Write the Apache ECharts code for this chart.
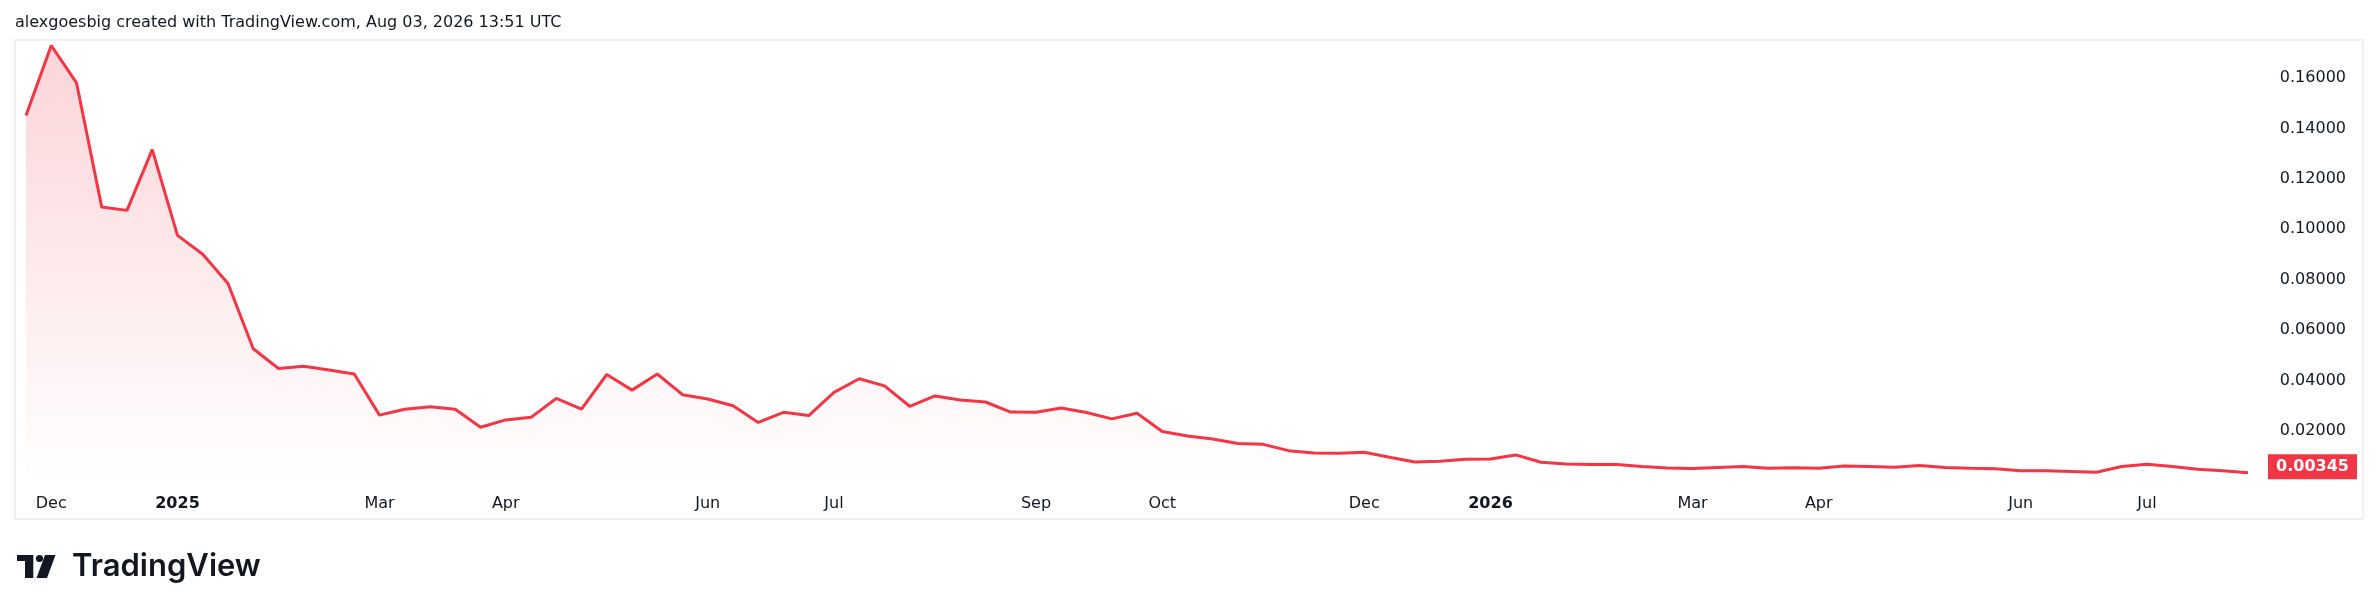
<!DOCTYPE html>
<html>
<head>
<meta charset="utf-8">
<script src="https://cdn.jsdelivr.net/npm/echarts@6/dist/echarts.min.js"></script>
<style>
  html, body { margin: 0; padding: 0; background: #ffffff; }
  #chart { width: 2379px; height: 611px; }
</style>
</head>
<body>
<div id="chart"></div>
<script>
// ---- data (weekly closes) ----
const startWeek = '2024-11-25';
const values = [
  0.1451, 0.1729, 0.1581, 0.1088, 0.1075, 0.1316, 0.0976, 0.0901, 0.0785, 0.0526,
  0.0448, 0.0457, 0.0442, 0.0426, 0.0263, 0.0286, 0.0296, 0.0286, 0.0215, 0.0244,
  0.0254, 0.0329, 0.0287, 0.0424, 0.0362, 0.0426, 0.0344, 0.0327, 0.0300, 0.0234,
  0.0274, 0.0261, 0.0353, 0.0407, 0.0379, 0.0298, 0.0339, 0.0323, 0.0315, 0.0275,
  0.0274, 0.0291, 0.0273, 0.0248, 0.0270, 0.0198, 0.0180, 0.0168, 0.0150, 0.0147,
  0.0122, 0.0113, 0.0112, 0.0116, 0.0096, 0.0077, 0.0080, 0.0088, 0.0089, 0.0105,
  0.0076, 0.0069, 0.0067, 0.0067, 0.0059, 0.0053, 0.0051, 0.0055, 0.0059, 0.0052,
  0.0054, 0.0052, 0.0061, 0.0059, 0.0056, 0.0063, 0.0055, 0.0052, 0.0050, 0.0042,
  0.0042, 0.0039, 0.0036, 0.0059, 0.0068, 0.0059, 0.0048, 0.0042, 0.00345
];
// x tick labels: category index -> text
const tickLabels = {
  1: 'Dec', 6: '2025', 14: 'Mar', 19: 'Apr', 27: 'Jun', 32: 'Jul', 40: 'Sep',
  45: 'Oct', 53: 'Dec', 58: '2026', 66: 'Mar', 71: 'Apr', 79: 'Jun', 84: 'Jul'
};
const yearLabels = ['2025', '2026'];
const lastPriceLabel = '0.00345';
const titleText = 'alexgoesbig created with TradingView.com, Aug 03, 2026 13:51 UTC';
const brandText = 'TradingView';

// weekly category dates
const categories = [];
{
  const d0 = new Date(startWeek + 'T00:00:00Z');
  for (let i = 0; i < values.length; i++) {
    const d = new Date(d0.getTime() + i * 7 * 86400000);
    categories.push(d.toISOString().slice(0, 10));
  }
}

const RED = '#F23645';
const TXT = '#131722';
const FONT = '"DejaVu Sans", Verdana, sans-serif';

const chart = echarts.init(document.getElementById('chart'), null, { renderer: 'canvas' });
const lastIdx = values.length - 1;

chart.setOption({
  animation: false,
  backgroundColor: '#ffffff',
  grid: { left: 26, right: 131, top: 27.6, bottom: 129.6, containLabel: false },
  xAxis: {
    type: 'category',
    data: categories,
    boundaryGap: false,
    axisLine: { show: false },
    axisTick: { show: false },
    splitLine: { show: false },
    axisLabel: {
      interval: (idx) => tickLabels[idx] !== undefined,
      formatter: (val, idx) => {
        const t = tickLabels[idx];
        if (t === undefined) return '';
        return yearLabels.includes(t) ? '{b|' + t + '}' : t;
      },
      rich: { b: { fontWeight: 'bold', fontSize: 16, fontFamily: FONT, color: TXT } },
      color: TXT,
      fontSize: 16,
      fontFamily: FONT,
      margin: 14,
      hideOverlap: false
    }
  },
  yAxis: {
    type: 'value',
    position: 'right',
    min: 0,
    max: 0.18,
    interval: 0.02,
    axisLine: { show: false },
    axisTick: { show: false },
    splitLine: { show: false },
    axisLabel: {
      align: 'right',
      margin: 98,
      color: TXT,
      fontSize: 16,
      fontFamily: FONT,
      formatter: (v) => (v <= 0 || v >= 0.179) ? '' : v.toFixed(5)
    }
  },
  graphic: [
    {
      type: 'rect', z: 0, silent: true,
      shape: { x: 15, y: 40, width: 2348, height: 479 },
      style: { fill: 'none', stroke: '#efefef', lineWidth: 2 }
    },
    {
      type: 'text', z: 10, silent: true,
      style: { x: 15, y: 23, text: titleText, fill: TXT, font: '16px ' + FONT, verticalAlign: 'middle', align: 'left' }
    },
    // TradingView logo mark
    { type: 'rect', silent: true, shape: { x: 17, y: 555, width: 16, height: 6 }, style: { fill: '#131722' } },
    { type: 'rect', silent: true, shape: { x: 25, y: 555, width: 8.3, height: 23 }, style: { fill: '#131722' } },
    { type: 'circle', silent: true, shape: { cx: 39.5, cy: 558.5, r: 3.6 }, style: { fill: '#131722' } },
    { type: 'polygon', silent: true, shape: { points: [[45, 555], [55.5, 555], [47, 578], [36.5, 578]] }, style: { fill: '#131722' } },
    {
      type: 'text', silent: true,
      style: { x: 72, y: 567, text: brandText, fill: '#131722', font: '600 31px Inter, "Noto Sans", sans-serif', verticalAlign: 'middle', align: 'left' }
    }
  ],
  series: [{
    type: 'line',
    data: values,
    showSymbol: false,
    symbol: 'none',
    smooth: false,
    lineStyle: { color: RED, width: 3 },
    itemStyle: { color: RED },
    areaStyle: {
      color: new echarts.graphic.LinearGradient(0, 0, 0, 1, [
        { offset: 0, color: 'rgba(242,54,69,0.30)' },
        { offset: 1, color: 'rgba(242,54,69,0.0)' }
      ])
    },
    markPoint: {
      silent: true,
      symbol: 'rect',
      symbolSize: [89, 25],
      symbolOffset: [64.5, -6],
      itemStyle: { color: RED },
      label: {
        show: true,
        position: 'inside',
        color: '#ffffff',
        fontSize: 16,
        fontWeight: 'bold',
        fontFamily: FONT,
        formatter: lastPriceLabel
      },
      data: [{ coord: [lastIdx, values[lastIdx]] }]
    }
  }]
});
</script>
</body>
</html>
